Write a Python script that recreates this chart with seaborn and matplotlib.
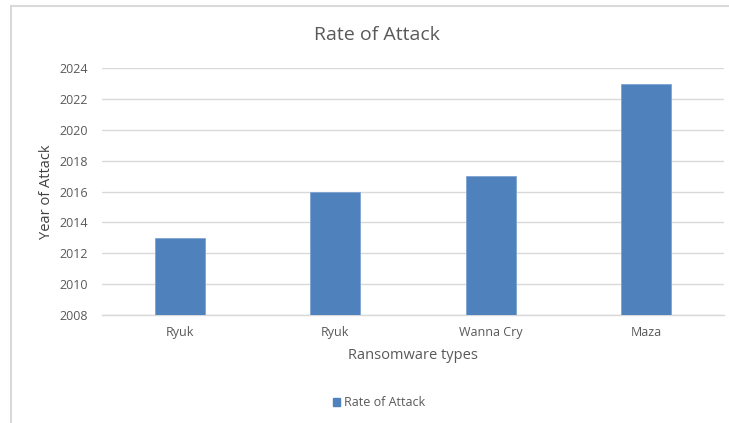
import numpy as np
import pandas as pd
import seaborn as sns
import matplotlib
matplotlib.use("Agg")
import matplotlib.pyplot as plt
from matplotlib.lines import Line2D

types = ["Ryuk", "Ryuk", "Wanna Cry", "Maza"]
years = [2013, 2016, 2017, 2023]
y_ticks = list(range(2008, 2025, 2))

df = pd.DataFrame({"slot": np.arange(len(types)), "year": years})

sns.set_theme(style="white")
plt.rcParams['font.family'] = ['Open Sans', 'DejaVu Sans']
text_gray = "#595959"
grid_gray = "#D9D9D9"

fig = plt.figure(figsize=(7.29, 4.23), dpi=100)
ax = fig.add_axes([0.140, 0.255, 0.853, 0.584])

sns.barplot(data=df, x="slot", y="year", color="#4F81BD", saturation=1,
            width=0.32, ax=ax, edgecolor="#7FA3D3", linewidth=0.6, zorder=3)

ax.set_ylim(2008, 2024)
ax.set_yticks(y_ticks)
ax.set_xlim(-0.5, len(types) - 0.5)
ax.set_xticks(range(len(types)), types)
ax.set_xticks(np.arange(-0.5, len(types)), minor=True)
ax.tick_params(axis="x", which="major", length=0, pad=8, labelsize=9, labelcolor=text_gray)
ax.tick_params(axis="x", which="minor", length=5, color=grid_gray, width=1)
ax.tick_params(axis="y", length=0, pad=10, labelsize=9, labelcolor=text_gray)
ax.yaxis.grid(True, color=grid_gray, linewidth=1, zorder=0)
ax.set_axisbelow(True)
for side in ["left", "right", "top"]:
    ax.spines[side].set_visible(False)
ax.spines["bottom"].set_color(grid_gray)
ax.spines["bottom"].set_linewidth(1)

ax.set_xlabel("Ransomware types", fontsize=10.5, color=text_gray, labelpad=6)
ax.set_ylabel("Year of Attack", fontsize=10.5, color="#404040", labelpad=4)
fig.text(0.517, 0.917, "Rate of Attack", ha="center", va="center", fontsize=14, color=text_gray)

handle = plt.Rectangle((0, 0), 1, 1, color="#4F81BD")
fig.legend([handle], ["Rate of Attack"], loc="center", bbox_to_anchor=(0.52, 0.048),
           frameon=False, fontsize=9, labelcolor=text_gray,
           handlelength=0.6, handleheight=0.6, handletextpad=0.3)

# chart area border (top and left visible)
fig.add_artist(Line2D([11 / 729, 1.0], [1 - 6 / 423, 1 - 6 / 423], color=grid_gray, linewidth=1.5))
fig.add_artist(Line2D([11 / 729, 11 / 729], [0, 1 - 6 / 423], color=grid_gray, linewidth=1.5))

fig.savefig("out.png", dpi=100)
